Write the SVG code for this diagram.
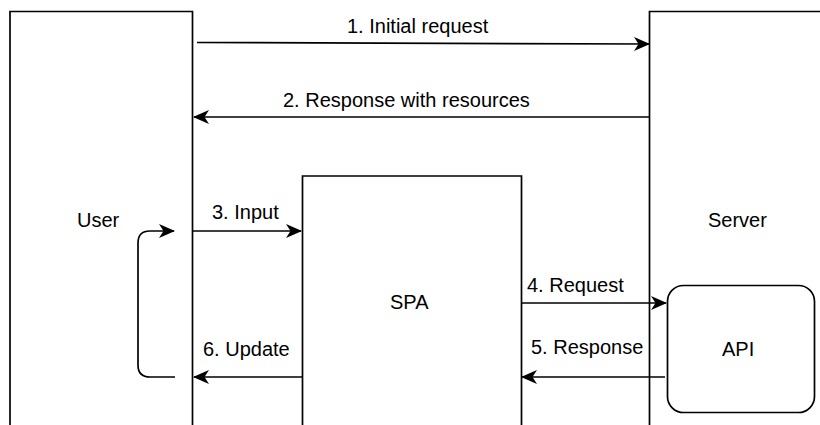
<svg xmlns="http://www.w3.org/2000/svg" width="820" height="425" viewBox="0 0 820 425">
  <style>
    .box { fill: #ffffff; stroke: #000000; stroke-width: 1.7; }
    .edge { fill: none; stroke: #000000; stroke-width: 1.7; marker-end: url(#arrow); }
    text { font-family: "Liberation Sans", Arial, sans-serif; font-size: 20px; fill: #000000; }
  </style>
  <defs>
    <marker id="arrow" viewBox="0 0 16 14" refX="15" refY="7" markerWidth="16" markerHeight="14" markerUnits="userSpaceOnUse" orient="auto">
      <path d="M0,0 L16,7 L0,14 L4.5,7 Z" fill="#000000"/>
    </marker>
  </defs>
  <rect width="820" height="425" fill="#ffffff"/>

  <!-- nodes: open-ended boxes run past the canvas edge -->
  <g id="user">
    <path class="box" d="M10,430 L10,11.5 L192.5,11.5 L192.5,430"/>
    <text x="77" y="227">User</text>
  </g>
  <g id="server">
    <path class="box" d="M649.5,430 L649.5,11.5 L830,11.5"/>
    <text x="708" y="227">Server</text>
  </g>
  <g id="spa">
    <path class="box" d="M302.5,430 L302.5,176 L521.5,176 L521.5,430"/>
    <text x="390" y="309">SPA</text>
  </g>
  <g id="api">
    <rect class="box" x="667.5" y="285.5" width="147" height="127" rx="16" ry="16"/>
    <text x="722" y="356">API</text>
  </g>

  <!-- connectors -->
  <g id="connectors">
    <path class="edge" d="M197,42.5 L649,44"/>
    <text x="347" y="33">1. Initial request</text>

    <path class="edge" d="M649,117 L194,117"/>
    <text x="283" y="107">2. Response with resources</text>

    <path class="edge" d="M193,231 L301,231"/>
    <text x="212" y="219">3. Input</text>

    <path class="edge" d="M302,377 L194,377"/>
    <text x="203" y="356">6. Update</text>

    <path class="edge" d="M175,377 L150,377 Q138,377 138,365 L138,243 Q138,231 150,231 L174,231"/>

    <path class="edge" d="M521,303 L666,303"/>
    <text x="527" y="292">4. Request</text>

    <path class="edge" d="M665,377 L522,377"/>
    <text x="531" y="354">5. Response</text>
  </g>
</svg>
